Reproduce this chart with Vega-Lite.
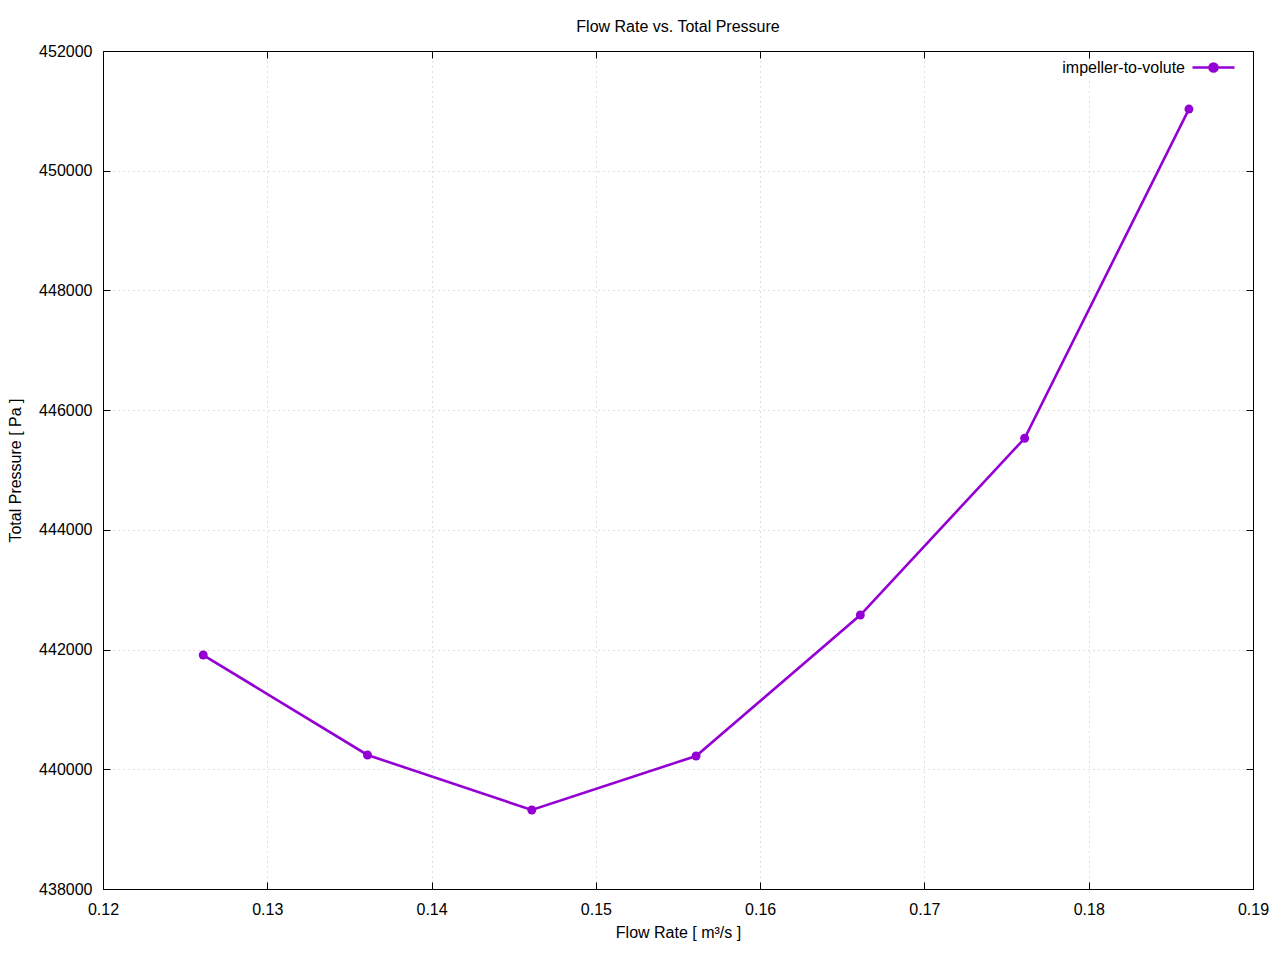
{
  "$schema": "https://vega.github.io/schema/vega-lite/v6.json",
  "autosize": {"type": "none"},
  "width": 1150,
  "height": 838,
  "padding": {"left": 103, "top": 51, "right": 27, "bottom": 71},
  "background": "white",
  "title": {"text": "Flow Rate vs. Total Pressure", "font": "Liberation Sans", "fontSize": 16, "fontWeight": "normal", "color": "black", "offset": 8},
  "config": {
    "view": {"stroke": "black", "strokeWidth": 1},
    "axis": {"labelFont": "Liberation Sans", "titleFont": "Liberation Sans", "labelFontSize": 16, "titleFontSize": 16, "titleFontWeight": "normal", "labelColor": "black", "titleColor": "black", "domainColor": "black", "tickColor": "black", "tickSize": -7, "gridColor": "#c0c0c0", "gridDash": [1, 4], "gridWidth": 1}
  },
  "resolve": {"axis": {"x": "independent", "y": "independent"}},
  "data": {"values": [
    {"flow": 0.1261, "pressure": 441909, "series": "impeller-to-volute"},
    {"flow": 0.1361, "pressure": 440239, "series": "impeller-to-volute"},
    {"flow": 0.1461, "pressure": 439320, "series": "impeller-to-volute"},
    {"flow": 0.1561, "pressure": 440222, "series": "impeller-to-volute"},
    {"flow": 0.1661, "pressure": 442577, "series": "impeller-to-volute"},
    {"flow": 0.1761, "pressure": 445530, "series": "impeller-to-volute"},
    {"flow": 0.1861, "pressure": 451030, "series": "impeller-to-volute"}
  ]},
  "layer": [
    {
      "mark": {"type": "line", "strokeWidth": 2.6, "point": {"filled": true, "size": 80}},
      "encoding": {
        "x": {"field": "flow", "type": "quantitative", "scale": {"domain": [0.12, 0.19], "nice": false, "zero": false},
              "axis": {"title": "Flow Rate [ m³/s ]", "values": [0.12, 0.13, 0.14, 0.15, 0.16, 0.17, 0.18, 0.19], "format": ".2f", "labelPadding": 19, "titlePadding": 7, "labelFlush": false, "labelOverlap": false}},
        "y": {"field": "pressure", "type": "quantitative", "scale": {"domain": [438000, 452000], "nice": false, "zero": false},
              "axis": {"title": "Total Pressure [ Pa ]", "values": [438000, 440000, 442000, 444000, 446000, 448000, 450000, 452000], "format": "d", "labelPadding": 18, "titlePadding": 15, "labelFlush": false, "labelOverlap": false}},
        "color": {"field": "series", "type": "nominal", "scale": {"range": ["#9400d3"]},
                  "legend": {"title": null, "orient": "none", "legendX": 1088, "legendY": -6, "labelFont": "Liberation Sans", "labelFontSize": 16, "labelColor": "black", "labelAlign": "right", "labelOffset": -51, "symbolType": "M-1,0H1M0.19,0A0.19,0.19 0 1,1 -0.19,0A0.19,0.19 0 1,1 0.19,0Z", "symbolSize": 1764, "symbolStrokeWidth": 2.6, "symbolFillColor": "#9400d3", "symbolStrokeColor": "#9400d3", "padding": 0}}
      }
    },
    {
      "mark": {"type": "point", "opacity": 0},
      "encoding": {
        "x": {"field": "flow", "type": "quantitative", "axis": {"orient": "top", "labels": false, "grid": false, "title": null, "domain": true, "values": [0.12, 0.13, 0.14, 0.15, 0.16, 0.17, 0.18, 0.19]}},
        "y": {"field": "pressure", "type": "quantitative", "axis": {"orient": "right", "labels": false, "grid": false, "title": null, "domain": true, "values": [438000, 440000, 442000, 444000, 446000, 448000, 450000, 452000]}}
      }
    }
  ]
}
